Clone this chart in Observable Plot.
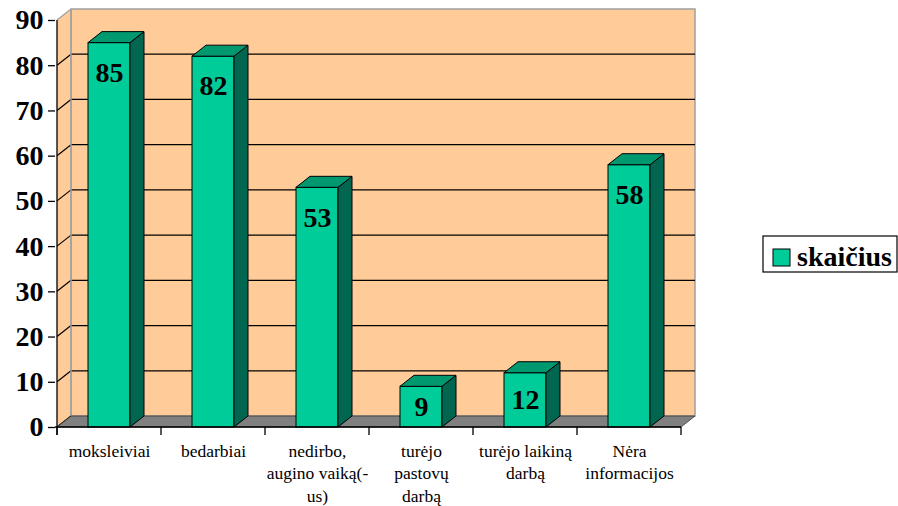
<!DOCTYPE html>
<html><head><meta charset="utf-8">
<script src="https://cdn.jsdelivr.net/npm/d3@7"></script>
<script src="https://cdn.jsdelivr.net/npm/@observablehq/plot@0.6"></script>
<style>html,body{margin:0;padding:0;background:#fff}#chart svg{display:block}</style>
</head><body><div id="chart"></div>
<script>
const categories = ["moksleiviai", "bedarbiai", "nedirbo,\naugino vaiką(-\nus)", "turėjo\npastovų\ndarbą", "turėjo laikiną\ndarbą", "Nėra\ninformacijos"];
const values = [85, 82, 53, 9, 12, 58];
const yTicks = [0, 10, 20, 30, 40, 50, 60, 70, 80, 90];
const seriesName = "skaičius";

const data = categories.map((c, i) => ({category: c, value: values[i]}));

const DX = 14, DY = 11;
const FONT = "'Liberation Serif', 'Times New Roman', serif";
const WALL = "#FFCC99", FRONT = "#00CC99", SIDE = "#006650", TOP = "#00996F", FLOOR = "#808080";

function geom(scales) {
  const x = scales.x, y = scales.y;
  const bw = x.bandwidth();
  const step = x.step();
  const off = (step - bw) / 2;
  const x0 = x(categories[0]) - off;
  const x1 = x(categories[categories.length - 1]) + bw + off;
  return {x, y, bw, step, off, x0, x1, y0: y(0), yTop: y(yTicks[yTicks.length - 1])};
}

function walls(index, scales) {
  const g = geom(scales);
  const G = d3.create("svg:g");
  G.append("path")
    .attr("d", `M${g.x0},${g.yTop}L${g.x0 + DX},${g.yTop - DY}L${g.x0 + DX},${g.y0 - DY}L${g.x0},${g.y0}Z`)
    .attr("fill", WALL);
  G.append("rect")
    .attr("x", g.x0 + DX).attr("y", g.yTop - DY)
    .attr("width", g.x1 - g.x0).attr("height", g.y0 - g.yTop)
    .attr("fill", WALL).attr("stroke", "#a0a0a0").attr("stroke-width", 1.5);
  for (const t of yTicks) {
    const yy = g.y(t);
    if (t > 0 && t < 90) {
      G.append("line").attr("x1", g.x0 + DX).attr("x2", g.x1 + DX)
        .attr("y1", yy - DY).attr("y2", yy - DY).attr("stroke", "#000").attr("stroke-width", 1.2);
    }
    G.append("line").attr("x1", g.x0).attr("x2", g.x0 + DX)
      .attr("y1", yy).attr("y2", yy - DY)
      .attr("stroke", t === 90 ? "#a0a0a0" : "#000").attr("stroke-width", 1.2);
  }
  G.append("line").attr("x1", g.x0 + DX).attr("x2", g.x0 + DX)
    .attr("y1", g.yTop - DY).attr("y2", g.y0 - DY).attr("stroke", "#a0a0a0").attr("stroke-width", 1.5);
  G.append("path")
    .attr("d", `M${g.x0},${g.y0}L${g.x1},${g.y0}L${g.x1 + DX},${g.y0 - DY}L${g.x0 + DX},${g.y0 - DY}Z`)
    .attr("fill", FLOOR).attr("stroke", "#333").attr("stroke-width", 0.8);
  return G.node();
}

function bars3d(index, scales) {
  const g = geom(scales);
  const G = d3.create("svg:g").attr("stroke", "#000").attr("stroke-width", 1).attr("stroke-linejoin", "round");
  for (const d of data) {
    const xl = g.x(d.category), xr = xl + g.bw, yt = g.y(d.value), yb = g.y0;
    G.append("path")
      .attr("d", `M${xr},${yb}L${xr},${yt}L${xr + DX},${yt - DY}L${xr + DX},${yb - DY}Z`)
      .attr("fill", SIDE);
    G.append("path")
      .attr("d", `M${xl},${yt}L${xl + DX},${yt - DY}L${xr + DX},${yt - DY}L${xr},${yt}Z`)
      .attr("fill", TOP);
  }
  return G.node();
}

function axesLines(index, scales) {
  const g = geom(scales);
  const G = d3.create("svg:g").attr("stroke", "#000").attr("stroke-width", 1.3);
  G.append("line").attr("x1", g.x0).attr("x2", g.x0).attr("y1", g.yTop).attr("y2", g.y0 + 8);
  G.append("line").attr("x1", g.x0 - 2).attr("x2", g.x1).attr("y1", g.y0).attr("y2", g.y0);
  const bounds = categories.map(c => g.x(c) - g.off).concat([g.x1]);
  for (const b of bounds) {
    G.append("line").attr("x1", b).attr("x2", b).attr("y1", g.y0).attr("y2", g.y0 + 8);
  }
  return G.node();
}

function legend(index, scales, values, dimensions) {
  const G = d3.create("svg:g");
  const lx = dimensions.width - 135, ly = 236;
  G.append("rect").attr("x", lx).attr("y", ly).attr("width", 134).attr("height", 36)
    .attr("fill", "#fff").attr("stroke", "#000").attr("stroke-width", 1.2);
  G.append("rect").attr("x", lx + 10).attr("y", ly + 13).attr("width", 17).attr("height", 17)
    .attr("fill", FRONT).attr("stroke", "#000").attr("stroke-width", 1);
  G.append("text").attr("x", lx + 34).attr("y", ly + 30)
    .attr("text-anchor", "start")
    .attr("font-family", FONT).attr("font-size", 28).attr("font-weight", "bold").attr("fill", "#000")
    .text(seriesName);
  return G.node();
}

const plot = Plot.plot({
  width: 898,
  height: 506,
  marginLeft: 55,
  marginRight: 216,
  marginTop: 20,
  marginBottom: 79,
  style: {fontFamily: FONT, background: "#fff", color: "#000", overflow: "visible"},
  x: {domain: categories, paddingInner: 0.6, paddingOuter: 0.3, align: 0.5, axis: null},
  y: {domain: [0, 90]},
  marks: [
    walls,
    Plot.barY(data, {x: "category", y: "value", fill: FRONT, stroke: "#000", strokeWidth: 1}),
    bars3d,
    Plot.text(data, {
      x: "category",
      y: d => Math.max(d.value - 6.6, d.value / 2),
      text: d => String(d.value),
      fontSize: 28, fontWeight: "bold", fill: "#000", fontFamily: FONT
    }),
    axesLines,
    Plot.axisY({ticks: yTicks, tickSize: 7, tickPadding: 5, fontSize: 28, fontWeight: "bold", fontFamily: FONT, label: null, strokeWidth: 1.3}),
    Plot.text(categories, {
      x: d => d, text: d => d,
      frameAnchor: "bottom", lineAnchor: "top", dy: 13,
      fontSize: 17.5, lineHeight: 1.3, fill: "#000", fontFamily: FONT
    }),
    legend
  ]
});
document.getElementById("chart").appendChild(plot);
</script>
</body></html>
